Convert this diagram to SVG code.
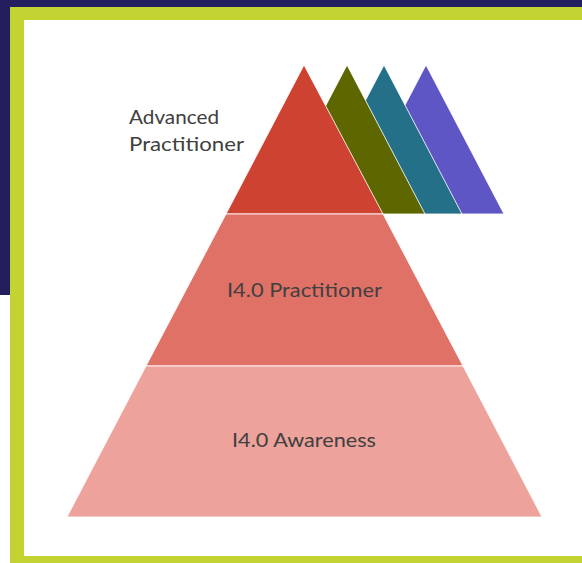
<svg xmlns="http://www.w3.org/2000/svg" width="582" height="563" viewBox="0 0 582 563">
  <style>
    .tri { stroke: #ffffff; stroke-width: 1; stroke-opacity: 0.85; stroke-linejoin: miter; }
    .lbl { font-family: Lato, "Open Sans", "Liberation Sans", sans-serif; font-size: 20px; fill: #404040; }
  </style>
  <g id="background">
    <rect x="0" y="0" width="582" height="563" fill="#ffffff"/>
    <rect x="0" y="0" width="582" height="7" fill="#231F5E"/>
    <rect x="0" y="0" width="10" height="295" fill="#231F5E"/>
    <rect x="10" y="7" width="580" height="556" fill="#C3D432"/>
    <rect x="24" y="20" width="570" height="536" fill="#ffffff"/>
  </g>
  <g id="purple-triangle">
    <polygon class="tri" points="426,65 348,214 504,214" fill="#5F56C6"/>
  </g>
  <g id="teal-triangle">
    <polygon class="tri" points="384,65 306,214 462,214" fill="#237088"/>
  </g>
  <g id="olive-triangle">
    <polygon class="tri" points="347,65 269,214 425,214" fill="#5E6600"/>
  </g>
  <g id="advanced-practitioner">
    <polygon class="tri" points="304,65 226,214 383,214" fill="#CD4231"/>
    <text class="lbl" x="129" y="124" textLength="90" lengthAdjust="spacingAndGlyphs">Advanced</text>
    <text class="lbl" x="129" y="151" textLength="115" lengthAdjust="spacingAndGlyphs">Practitioner</text>
  </g>
  <g id="i40-practitioner">
    <polygon class="tri" points="226,214 383,214 463,366 146,366" fill="#E07167"/>
    <text class="lbl" x="227" y="297" textLength="155" lengthAdjust="spacingAndGlyphs">I4.0 Practitioner</text>
  </g>
  <g id="i40-awareness">
    <polygon class="tri" points="146,366 463,366 542,517 67,517" fill="#EDA29B"/>
    <text class="lbl" x="232" y="447" textLength="144" lengthAdjust="spacingAndGlyphs">I4.0 Awareness</text>
  </g>
  <g id="connectors"/>
</svg>
